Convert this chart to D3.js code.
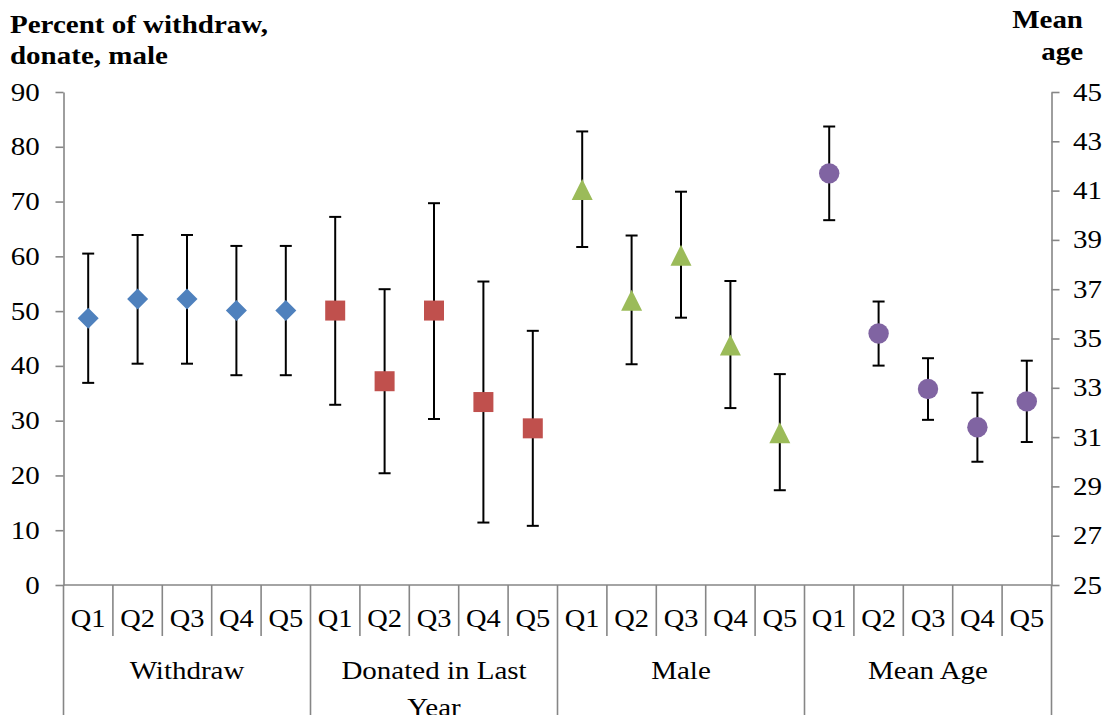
<!DOCTYPE html>
<html>
<head>
<meta charset="utf-8">
<script src="https://cdn.jsdelivr.net/npm/d3@7"></script>
<style>
  body { margin: 0; background: #fff; }
  .axis path, .axis line { stroke: #868686; stroke-width: 1.6; }
</style>
</head>
<body>
<div id="chart"></div>
<script>
// Datos
const groups = ["Withdraw", "Donated in Last Year", "Male", "Mean Age"]
const quintiles = ["Q1", "Q2", "Q3", "Q4", "Q5"]

const withdrawMean = [48.7, 52.2, 52.2, 50.1, 50.1]
const withdrawLow  = [36.9, 40.4, 40.4, 38.3, 38.3]
const withdrawHigh = [60.5, 63.9, 63.9, 61.9, 61.9]

const donatedMean = [50.1, 37.2, 50.1, 33.4, 28.6]
const donatedLow  = [32.9, 20.4, 30.3, 11.4, 10.8]
const donatedHigh = [67.2, 54.0, 69.7, 55.4, 46.4]

const maleMean = [72.2, 52.0, 60.2, 43.8, 27.8]
const maleLow  = [61.7, 40.3, 48.8, 32.3, 17.3]
const maleHigh = [82.8, 63.8, 71.8, 55.5, 38.5]

const ageMean = [41.7, 35.2, 32.95, 31.4, 32.45]
const ageLow  = [39.8, 33.9, 31.7, 30.0, 30.8]
const ageHigh = [43.6, 36.5, 34.2, 32.8, 34.1]

const leftTicks = [0, 10, 20, 30, 40, 50, 60, 70, 80, 90]
const rightTicks = [25, 27, 29, 31, 33, 35, 37, 39, 41, 43, 45]

// ----------------------------------------------------------

const width = 1112
const height = 715
const margin = { top: 92, bottom: 130, left: 63.5, right: 60.5 }
const plotBottom = height - margin.bottom   // 585
const plotRight = width - margin.right       // 1051.5
const serif = "'Liberation Serif', 'Times New Roman', serif"
const sx = 1.16   // el texto del original sale un poco ensanchado

const svg = d3.select("div#chart").append("svg")
    .attr("width", width)
    .attr("height", height)
    .attr("font-family", serif)

// Categorias: grupo|quintil
const cats = []
groups.forEach(g => quintiles.forEach(q => cats.push(g + "|" + q)))

const scaleX = d3.scaleBand().domain(cats).range([margin.left, plotRight])
const scaleYLeft = d3.scaleLinear().domain([0, 90]).range([plotBottom, margin.top])
const scaleYRight = d3.scaleLinear().domain([25, 45]).range([plotBottom, margin.top])

// Ejes
const yAxisLeft = d3.axisLeft(scaleYLeft).tickValues(leftTicks).tickSize(8).tickPadding(12.5).tickSizeOuter(0)
const leftG = svg.append("g").attr("class", "axis")
    .attr("transform", `translate(${margin.left},0)`)
    .call(yAxisLeft)
    .attr("font-family", serif).attr("font-size", 25)

const yAxisRight = d3.axisRight(scaleYRight).tickValues(rightTicks).tickSize(8).tickPadding(10.5).tickSizeOuter(0)
const rightG = svg.append("g").attr("class", "axis")
    .attr("transform", `translate(${plotRight},0)`)
    .call(yAxisRight)
    .attr("font-family", serif).attr("font-size", 25)

svg.selectAll(".axis text").attr("fill", "#000").attr("transform", `scale(${sx},1)`)

// Eje x con dos niveles
const xAxisG = svg.append("g").attr("class", "axis")
xAxisG.append("line")
    .attr("x1", margin.left).attr("x2", plotRight)
    .attr("y1", plotBottom).attr("y2", plotBottom)

const bw = scaleX.bandwidth()
d3.range(cats.length + 1).forEach(i => {
    const x = margin.left + i * bw
    const isGroupEdge = i % quintiles.length === 0
    xAxisG.append("line")
        .attr("x1", x).attr("x2", x)
        .attr("y1", plotBottom).attr("y2", isGroupEdge ? height : 636)
})

svg.append("g").selectAll("text").data(cats).join("text")
    .attr("transform", d => `translate(${scaleX(d) + bw / 2},627) scale(${sx},1)`)
    .attr("text-anchor", "middle")
    .attr("font-size", 24.5)
    .text(d => d.split("|")[1])

const groupLabels = svg.append("g")
groups.forEach(g => {
    const x0 = scaleX(g + "|Q1")
    const cx = x0 + bw * quintiles.length / 2
    const t = groupLabels.append("text")
        .attr("transform", `translate(${cx},679) scale(${sx},1)`)
        .attr("text-anchor", "middle")
        .attr("font-size", 25)
    if (g === "Donated in Last Year") {
        t.append("tspan").attr("x", 0).text("Donated in Last")
        t.append("tspan").attr("x", 0).attr("dy", 37).text("Year")
    } else {
        t.text(g)
    }
})

// Titulos de ejes
const leftTitle = svg.append("text").attr("font-size", 25).attr("font-weight", "bold")
    .attr("transform", `translate(10,0) scale(${sx},1)`)
leftTitle.append("tspan").attr("x", 0).attr("y", 33).text("Percent of withdraw,")
leftTitle.append("tspan").attr("x", 0).attr("y", 64).text("donate, male")

const rightTitle = svg.append("text").attr("font-size", 25).attr("font-weight", "bold")
    .attr("text-anchor", "end")
    .attr("transform", `translate(1083,0) scale(${sx},1)`)
rightTitle.append("tspan").attr("x", 0).attr("y", 28).text("Mean")
rightTitle.append("tspan").attr("x", 0).attr("y", 60).text("age")

// Series
const series = [
    { group: "Withdraw", mean: withdrawMean, low: withdrawLow, high: withdrawHigh, y: scaleYLeft, color: "#4F81BD", symbol: "diamond" },
    { group: "Donated in Last Year", mean: donatedMean, low: donatedLow, high: donatedHigh, y: scaleYLeft, color: "#C0504D", symbol: "square" },
    { group: "Male", mean: maleMean, low: maleLow, high: maleHigh, y: scaleYLeft, color: "#9BBB59", symbol: "triangle" },
    { group: "Mean Age", mean: ageMean, low: ageLow, high: ageHigh, y: scaleYRight, color: "#8064A2", symbol: "circle" }
]

const elementGroup = svg.append("g").attr("id", "elementGroup")
const capW = 6

series.forEach(s => {
    const pts = quintiles.map((q, i) => ({
        x: scaleX(s.group + "|" + q) + bw / 2,
        m: s.mean[i], lo: s.low[i], hi: s.high[i]
    }))
    const g = elementGroup.append("g")
    // barras de error
    g.selectAll("line.v").data(pts).join("line")
        .attr("x1", d => d.x).attr("x2", d => d.x)
        .attr("y1", d => s.y(d.lo)).attr("y2", d => s.y(d.hi))
        .attr("stroke", "#000").attr("stroke-width", 2)
    g.selectAll("line.top").data(pts).join("line")
        .attr("x1", d => d.x - capW).attr("x2", d => d.x + capW)
        .attr("y1", d => s.y(d.hi)).attr("y2", d => s.y(d.hi))
        .attr("stroke", "#000").attr("stroke-width", 2)
    g.selectAll("line.bot").data(pts).join("line")
        .attr("x1", d => d.x - capW).attr("x2", d => d.x + capW)
        .attr("y1", d => s.y(d.lo)).attr("y2", d => s.y(d.lo))
        .attr("stroke", "#000").attr("stroke-width", 2)

    // marcadores
    const mk = g.selectAll("path.mk").data(pts).join("path")
        .attr("fill", s.color)
    if (s.symbol === "diamond") {
        mk.attr("d", d => `M${d.x},${s.y(d.m) - 10.5}L${d.x + 10.5},${s.y(d.m)}L${d.x},${s.y(d.m) + 10.5}L${d.x - 10.5},${s.y(d.m)}Z`)
    } else if (s.symbol === "square") {
        mk.attr("d", d => `M${d.x - 10},${s.y(d.m) - 10}h20v20h-20Z`)
    } else if (s.symbol === "triangle") {
        mk.attr("d", d => `M${d.x},${s.y(d.m) - 10.5}L${d.x + 10.5},${s.y(d.m) + 10.5}L${d.x - 10.5},${s.y(d.m) + 10.5}Z`)
    } else {
        mk.attr("d", d => d3.symbol(d3.symbolCircle, Math.PI * 10.2 * 10.2)()).attr("transform", d => `translate(${d.x},${s.y(d.m)})`)
    }
})
</script>
</body>
</html>
